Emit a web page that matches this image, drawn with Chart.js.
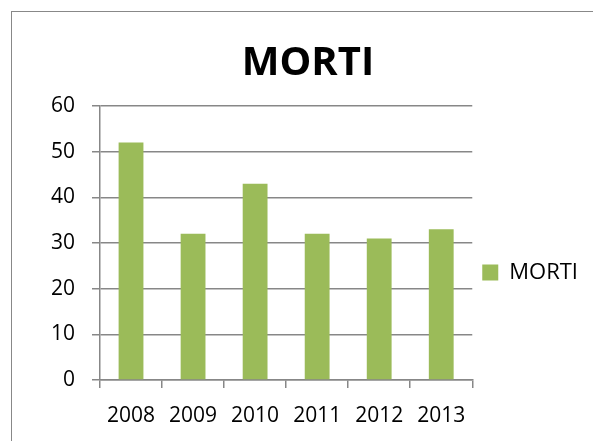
<!DOCTYPE html>
<html>
<head>
<meta charset="utf-8">
<script src="https://cdn.jsdelivr.net/npm/chart.js@4.4.0/dist/chart.umd.min.js"></script>
<style>
  html, body { margin: 0; padding: 0; background: #fff; overflow: hidden; }
  #frame { position: absolute; left: 11px; top: 11px; width: 700px; height: 600px; border: 1.5px solid #888; }
  #wrap { position: absolute; left: 0; top: 0; width: 593px; height: 441px; }
</style>
</head>
<body>
<div id="frame"></div>
<div id="wrap"><canvas id="barChart" width="593" height="441"></canvas></div>
<script>
const years = ["2008", "2009", "2010", "2011", "2012", "2013"];
const morti = [52, 32, 43, 32, 31, 33];
const seriesName = "MORTI";

const gridGray = "#878787";
const font = "'Open Sans', 'DejaVu Sans', sans-serif";

const barGraph = document.getElementById("barChart").getContext("2d");
const barChart = new Chart(barGraph, {
  type: "bar",
  data: {
    labels: years,
    datasets: [{
      label: seriesName,
      data: morti,
      backgroundColor: "#9bbb59",
      borderWidth: 0,
      barPercentage: 0.4,
      categoryPercentage: 1,
    }],
  },
  options: {
    responsive: false,
    animation: false,
    layout: {
      padding: { left: 28, right: 5, top: 0, bottom: 0 },
    },
    plugins: {
      title: {
        display: true,
        text: "MORTI",
        color: "#000",
        font: { family: font, size: 40, weight: "bold" },
        padding: { top: 40, bottom: 18 },
      },
      legend: {
        position: "right",
        labels: {
          color: "#000",
          font: { family: font, size: 22 },
          boxWidth: 16,
          boxHeight: 16,
          padding: 10,
        },
        title: {
          display: true,
          text: "",
          font: { size: 10 },
          padding: { top: 0, bottom: 92 },
        },
      },
      tooltip: { enabled: false },
    },
    scales: {
      x: {
        grid: {
          offset: true,
          drawOnChartArea: false,
          color: gridGray,
          lineWidth: 1.5,
          tickLength: 8,
        },
        border: { color: gridGray, width: 1.5 },
        ticks: {
          color: "#000",
          font: { family: font, size: 21 },
          padding: 15,
          maxRotation: 0,
        },
        afterFit: (scale) => { scale.height = 61; },
      },
      y: {
        min: 0,
        max: 60,
        ticks: {
          stepSize: 10,
          color: "#000",
          font: { family: font, size: 21 },
          padding: 17,
        },
        grid: {
          color: gridGray,
          lineWidth: 1.5,
          tickLength: 8,
        },
        border: { color: gridGray, width: 1.5 },
        afterFit: (scale) => { scale.width = 72; },
      },
    },
  },
});
</script>
</body>
</html>
